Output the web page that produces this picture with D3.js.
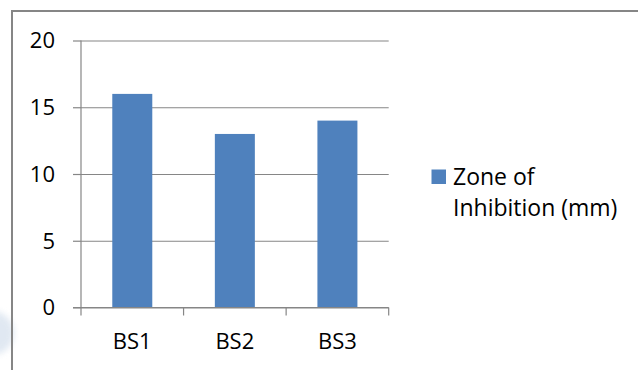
<!DOCTYPE html>
<html>
<head>
<meta charset="utf-8">
<script src="https://cdn.jsdelivr.net/npm/d3@7"></script>
<style>
  html, body { margin: 0; padding: 0; background: #fff; }
  svg { display: block; }
  text { font-family: "Open Sans", sans-serif; fill: #000; }
</style>
</head>
<body>
<svg id="chart" width="638" height="370"></svg>
<script>
// Zone of inhibition per sample
const categories = ["BS1", "BS2", "BS3"];
const zoneValues = [16, 13, 14];
const yTicks = [0, 5, 10, 15, 20];
const seriesName = ["Zone of", "Inhibition (mm)"];

const svg = d3.select("#chart");
const W = 638, H = 370;
const plot = { left: 81, right: 388.7, top: 40.5, bottom: 307.5 };
const grey = "#868686";
const barColor = "#4f81bd";

// faint watermark blob at the left edge
const defs = svg.append("defs");
defs.append("filter").attr("id", "soft")
  .append("feGaussianBlur").attr("stdDeviation", 3);
svg.append("circle")
  .attr("cx", -8).attr("cy", 333).attr("r", 22)
  .attr("fill", "#d9e3ef").attr("opacity", 0.8)
  .attr("filter", "url(#soft)");

// chart frame (runs off the right and bottom edges)
svg.append("rect")
  .attr("x", 12).attr("y", 11)
  .attr("width", W + 40).attr("height", H + 40)
  .attr("fill", "none").attr("stroke", "#868686").attr("stroke-width", 2);

const y = d3.scaleLinear().domain([0, 20]).range([plot.bottom, plot.top]);
const xCat = d3.scaleBand().domain(categories).range([plot.left, plot.right]).padding(0);
const x = d3.scaleBand().domain(categories).range([plot.left, plot.right])
  .paddingInner(0.61).paddingOuter(0.305);

// horizontal gridlines with left tick marks
const yAxis = d3.axisLeft(y).tickValues(yTicks).tickSize(8).tickFormat("");
const gy = svg.append("g").attr("transform", `translate(${plot.left},0)`).call(yAxis);
gy.select(".domain").remove();
gy.selectAll(".tick line").attr("stroke", grey).attr("stroke-width", 1.2);
gy.selectAll(".tick").append("line")
  .attr("x1", 0).attr("x2", plot.right - plot.left)
  .attr("stroke", grey).attr("stroke-width", 1.2);

// y tick labels
svg.append("g").selectAll("text").data(yTicks).join("text")
  .attr("x", 55).attr("y", d => y(d)).attr("dy", "0.36em")
  .attr("text-anchor", "end").attr("font-size", 22)
  .text(d => d);

// bars
svg.append("g").selectAll("rect").data(zoneValues).join("rect")
  .attr("x", (d, i) => x(categories[i]))
  .attr("y", d => y(d))
  .attr("width", x.bandwidth())
  .attr("height", d => y(0) - y(d))
  .attr("fill", barColor);

// vertical axis line
svg.append("line")
  .attr("x1", plot.left).attr("x2", plot.left)
  .attr("y1", plot.top).attr("y2", plot.bottom)
  .attr("stroke", grey).attr("stroke-width", 1.2);

// horizontal axis with category boundary ticks
const bounds = categories.map(c => xCat(c)).concat([plot.right]);
const gx = svg.append("g");
gx.append("line")
  .attr("x1", plot.left - 8).attr("x2", plot.right)
  .attr("y1", plot.bottom).attr("y2", plot.bottom)
  .attr("stroke", grey).attr("stroke-width", 1.2);
gx.selectAll("line.tk").data(bounds).join("line").attr("class", "tk")
  .attr("x1", d => d).attr("x2", d => d)
  .attr("y1", plot.bottom).attr("y2", plot.bottom + 8)
  .attr("stroke", grey).attr("stroke-width", 1.2);
gx.selectAll("text").data(categories).join("text")
  .attr("x", d => xCat(d) + xCat.bandwidth() / 2)
  .attr("y", 349).attr("text-anchor", "middle").attr("font-size", 22)
  .text(d => d);

// legend
const lg = svg.append("g");
lg.append("rect").attr("x", 431.5).attr("y", 169.5).attr("width", 14.5).attr("height", 14.5)
  .attr("fill", barColor);
lg.selectAll("text").data(seriesName).join("text")
  .attr("x", 453).attr("y", (d, i) => 185 + i * 31)
  .attr("font-size", 23)
  .text(d => d);
</script>
</body>
</html>
